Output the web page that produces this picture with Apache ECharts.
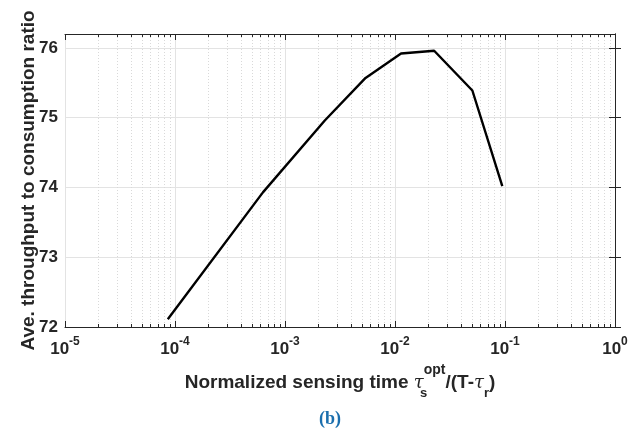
<!DOCTYPE html>
<html>
<head>
<meta charset="utf-8">
<script src="https://cdn.jsdelivr.net/npm/echarts@6/dist/echarts.min.js"></script>
<style>
  html, body { margin: 0; padding: 0; background: #fff; }
  #chart { width: 642px; height: 430px; }
</style>
</head>
<body>
<div id="chart"></div>
<script>
// sensing time (normalized) and average throughput-to-consumption ratio
const xValues = [8.6e-5, 6.3e-4, 2.3e-3, 5.4e-3, 0.01135, 0.0227, 0.0505, 0.0945];
const yValues = [72.11, 73.93, 74.96, 75.57, 75.92, 75.96, 75.39, 74.02];
const yTicks = [72, 73, 74, 75, 76];
const decades = [-5, -4, -3, -2, -1];
const minorMults = [2, 3, 4, 5, 6, 7, 8, 9];

// minor grid positions (log10 space) for the overlay axis
const minorLog = [];
decades.forEach(d => minorMults.forEach(m => minorLog.push(d + Math.log10(m))));

const axisColor = '#262626';
const font = 'Liberation Sans, Arial, Helvetica, sans-serif';

const chart = echarts.init(document.getElementById('chart'));

const minorAxis = (pos, withGrid) => ({
  type: 'value', position: pos, min: -5, max: 0,
  axisLine: { show: false },
  axisTick: { show: true, inside: true, length: 3, customValues: minorLog,
    lineStyle: { color: axisColor, width: 1 } },
  axisLabel: { show: false },
  splitLine: { show: withGrid, lineStyle: { color: '#d9d9d9', type: [1, 2], width: 1 } }
});

const subStyle = { color: axisColor, fontFamily: font, fontWeight: 'bold', fontSize: 13, lineHeight: 13,
  verticalAlign: 'top', padding: [24, 0, 0, 0] };

const option = {
  animation: false,
  title: {
    text: '(b)', left: 314, top: 405,
    textStyle: { fontFamily: 'Liberation Serif, Times New Roman, serif', fontWeight: 'bold', fontSize: 18, color: '#1b6fae' }
  },
  grid: { left: 65, right: 27, top: 34, bottom: 103 },
  xAxis: [{
    type: 'log', position: 'bottom', min: 1e-5, max: 1, logBase: 10,
    name: 'Normalized sensing time {tau|τ}{sb|s}{sp|opt}{m|/(T-}{tau|τ}{sr|r}{m|)}',
    nameLocation: 'middle', nameGap: 19,
    nameTextStyle: {
      color: axisColor, fontFamily: font, fontWeight: 'bold', fontSize: 19, lineHeight: 40,
      rich: {
        m: { color: axisColor, fontFamily: font, fontWeight: 'bold', fontSize: 19, lineHeight: 40 },
        tau: { color: axisColor, fontFamily: 'DejaVu Serif, serif', fontStyle: 'italic', fontWeight: 'normal', fontSize: 18, lineHeight: 40 },
        sb: Object.assign({}, subStyle, { width: 0 }),
        sp: { color: axisColor, fontFamily: font, fontWeight: 'bold', fontSize: 14, lineHeight: 13, verticalAlign: 'top' },
        sr: subStyle
      }
    },
    axisLine: { show: true, lineStyle: { color: axisColor, width: 1 } },
    axisTick: { show: true, inside: true, length: 6, lineStyle: { color: axisColor } },
    axisLabel: {
      margin: 9,
      formatter: v => '{b|10}{s|' + Math.round(Math.log10(v)) + '}',
      rich: {
        b: { color: axisColor, fontFamily: font, fontWeight: 'bold', fontSize: 17, lineHeight: 22, verticalAlign: 'bottom' },
        s: { color: axisColor, fontFamily: font, fontWeight: 'bold', fontSize: 12, lineHeight: 12, verticalAlign: 'top' }
      }
    },
    splitLine: { show: true, lineStyle: { color: '#e3e3e3', width: 1 } }
  }, minorAxis('bottom', true), {
    type: 'log', position: 'top', min: 1e-5, max: 1, logBase: 10,
    axisLine: { show: true, lineStyle: { color: axisColor, width: 1 } },
    axisTick: { show: true, inside: true, length: 6, lineStyle: { color: axisColor } },
    axisLabel: { show: false },
    splitLine: { show: false }
  }, minorAxis('top', false)],
  yAxis: [{
    type: 'value', position: 'left', min: 72, max: 76.2, interval: 1,
    name: 'Ave. throughput to consumption ratio',
    nameLocation: 'middle', nameGap: 27, nameMoveOverlap: false,
    nameTextStyle: { color: axisColor, fontFamily: font, fontWeight: 'bold', fontSize: 19 },
    axisLine: { show: true, lineStyle: { color: axisColor, width: 1 } },
    axisTick: { show: true, inside: true, length: 6, lineStyle: { color: axisColor } },
    axisLabel: {
      margin: 7, color: axisColor, fontFamily: font, fontWeight: 'bold', fontSize: 17,
      showMaxLabel: false,
      formatter: v => yTicks.includes(v) ? String(v) : ''
    },
    splitLine: { show: true, lineStyle: { color: '#e3e3e3', width: 1 } }
  }, {
    type: 'value', position: 'right', min: 72, max: 76.2, interval: 1,
    axisLine: { show: true, lineStyle: { color: axisColor, width: 1 } },
    axisTick: { show: true, inside: true, length: 6, lineStyle: { color: axisColor } },
    axisLabel: { show: false },
    splitLine: { show: false }
  }],
  series: [{
    type: 'line',
    xAxisIndex: 0, yAxisIndex: 0,
    data: xValues.map((x, i) => [x, yValues[i]]),
    showSymbol: false,
    lineStyle: { color: '#000', width: 2.4 },
    z: 5
  }]
};

chart.setOption(option);
</script>
</body>
</html>
